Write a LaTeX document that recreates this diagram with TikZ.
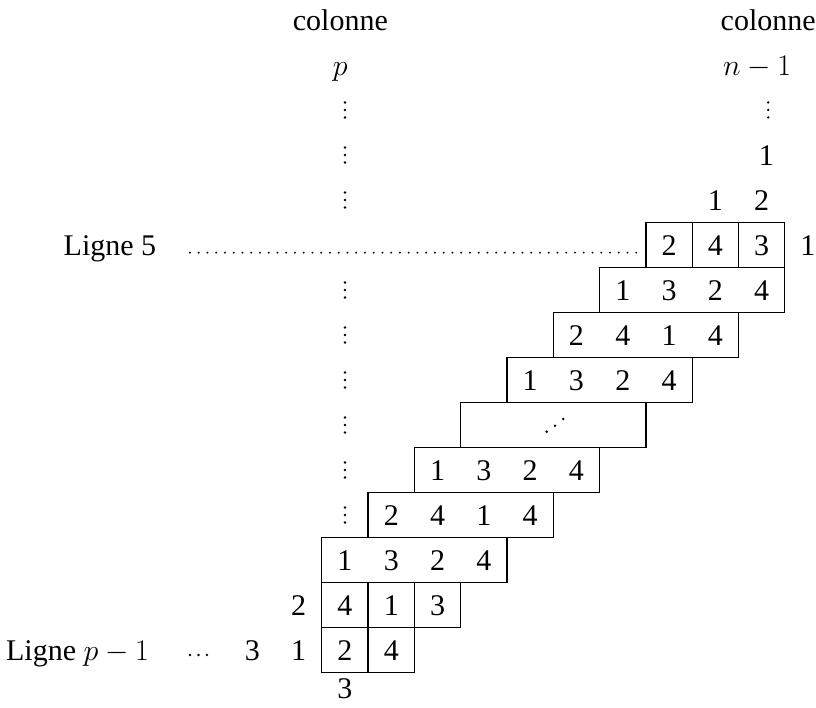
\RequirePackage{fix-cm}
\documentclass[tikz,border=0pt]{standalone}
\usepackage{fontspec}
\setmainfont{Liberation Serif}
\tikzset{
  txt/.style={anchor=base, inner sep=0pt, font=\fontsize{30}{36}\selectfont},
  box/.style={line width=1.3pt},
  dotfill/.style={line width=2.2pt, line cap=round, dash pattern=on 0pt off 8.75pt},
}
\newcommand\vdotsat[2]{\foreach \d in {-7.5,0,7.5}{\fill (#1,#2) ++(0pt,\d pt) circle[radius=1.3pt];}}
\begin{document}
\begin{tikzpicture}[x=46.3pt, y=-45pt]
\useasboundingbox (-7.451,-5.444) rectangle (10.173,10.267);

% headers
\node[txt] (colp) at (-0.1,-4.77) {colonne};
\node[txt] (coln) at (9.14,-4.77) {colonne};
\node[txt] (p) at (-0.1,-3.77) {$p$};
\node[txt] (n1) at (8.9,-3.77) {$n-1$};
\node[txt] (t1) at (9.1,-1.767) {1};
\node[txt] (u1) at (8,-0.767) {1};
\node[txt] (u2) at (9,-0.767) {2};
\vdotsat{9.14}{-3}
\foreach \r in {-3,-2,-1,1,2,3,4,5,6} {\vdotsat{0}{\r}}

% Ligne 5
\node[txt] (l5) at (-5.076,0.233) {Ligne 5};
\coordinate (d0) at (-3.348,0.17);
\coordinate (d1) at (6.371,0.17);
\draw[dotfill] (d0) -- (d1);

% row A
\draw[box] (6.5,-0.5) rectangle (9.5,0.5) (7.5,-0.5) -- (7.5,0.5) (8.5,-0.5) -- (8.5,0.5);
\foreach \k/\t in {7/2,8/4,9/3,10/1} {\node[txt] (A\k) at (\k,0.233) {\t};}
% row B
\draw[box] (5.5,0.5) rectangle (9.5,1.5);
\foreach \k/\t in {6/1,7/3,8/2,9/4} {\node[txt] (B\k) at (\k,1.233) {\t};}
% row C
\draw[box] (4.5,1.5) rectangle (8.5,2.5);
\foreach \k/\t in {5/2,6/4,7/1,8/4} {\node[txt] (C\k) at (\k,2.233) {\t};}
% row D
\draw[box] (3.5,2.5) rectangle (7.5,3.5);
\foreach \k/\t in {4/1,5/3,6/2,7/4} {\node[txt] (D\k) at (\k,3.233) {\t};}
% row E
\draw[box] (2.5,3.5) rectangle (6.5,4.5);
\fill (4.356,4.149) circle[radius=1.4pt] (4.536,4.016) circle[radius=1.4pt] (4.715,3.867) circle[radius=1.4pt];
% row F
\draw[box] (1.5,4.5) rectangle (5.5,5.5);
\foreach \k/\t in {2/1,3/3,4/2,5/4} {\node[txt] (F\k) at (\k,5.233) {\t};}
% row G
\draw[box] (0.5,5.5) rectangle (4.5,6.5);
\foreach \k/\t in {1/2,2/4,3/1,4/4} {\node[txt] (G\k) at (\k,6.233) {\t};}
% row H
\draw[box] (-0.5,6.5) rectangle (3.5,7.5);
\foreach \k/\t in {0/1,1/3,2/2,3/4} {\node[txt] (H\k) at (\k,7.233) {\t};}
% row I
\draw[box] (-0.5,7.5) rectangle (2.5,8.5) (0.5,7.5) -- (0.5,8.5) (1.5,7.5) -- (1.5,8.5);
\foreach \k/\t in {-1/2,0/4,1/1,2/3} {\node[txt] (I\k) at (\k,8.233) {\t};}
% row J
\draw[box] (-0.5,8.5) rectangle (1.5,9.5) (0.5,8.5) -- (0.5,9.5);
\foreach \k/\t in {-2/3,-1/1,0/2,1/4} {\node[txt] (J\k) at (\k,9.233) {\t};}
\fill (-3.348,9.111) circle[radius=1.3pt] (-3.164,9.111) circle[radius=1.3pt] (-2.981,9.111) circle[radius=1.3pt];
\node[txt] (lp) at (-5.778,9.233) {Ligne $p-1$};
\node[txt] (b3) at (0,10.08) {3};
\end{tikzpicture}
\end{document}
